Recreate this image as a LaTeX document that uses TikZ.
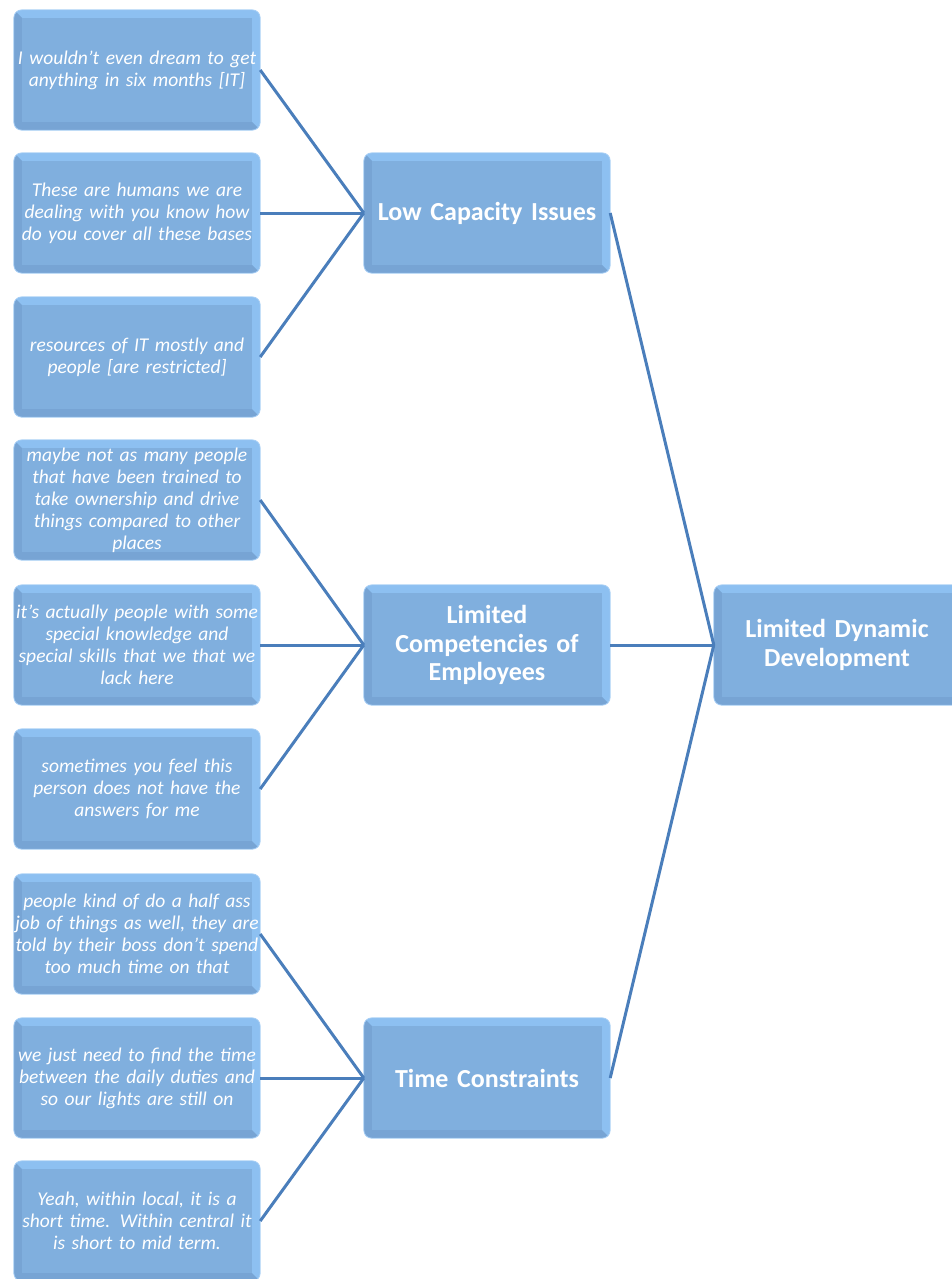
\documentclass[tikz,border=0pt]{standalone}
\usepackage{fontspec}
\setmainfont{Carlito}
\usetikzlibrary{calc,backgrounds}
\definecolor{bevlight}{HTML}{8DC0F1}
\definecolor{beveldark}{HTML}{77A4D4}
\definecolor{boxmain}{HTML}{80AFDE}
\definecolor{boxedge}{HTML}{A8CFF5}
\definecolor{linkc}{HTML}{4A7EBB}
\newcommand{\bevelcard}[1]{%
  \begin{scope}[on background layer]
    \begin{scope}
      \clip[rounded corners=8pt] (#1.south west) rectangle (#1.north east);
      \fill[bevlight] (#1.south west) rectangle (#1.north east);
      \fill[beveldark] (#1.north west) -- ($(#1.north west)+(8,8)$) -- ($(#1.south east)+(-8,-8)$)
        -- (#1.south east) -- (#1.south west) -- cycle;
      \fill[boxmain] ($(#1.north west)+(8,8)$) rectangle ($(#1.south east)+(-8,-8)$);
    \end{scope}
    \draw[boxedge, line width=0.8pt, rounded corners=8pt] (#1.south west) rectangle (#1.north east);
  \end{scope}}
\begin{document}
\begin{tikzpicture}[x=1pt,y=-1pt,
  card/.style={minimum width=246pt, minimum height=120pt,
    text width=246pt, align=center, text=white, inner sep=0pt},
  quote/.style={card, font=\fontsize{19.5}{22}\selectfont\itshape},
  theme/.style={card, font=\fontsize{26}{28.5}\selectfont\bfseries},
  link/.style={draw=linkc, line width=3pt}]
\useasboundingbox (0,0) rectangle (951,1279);

\node[quote] (L1) at (137,70) {I wouldn't even dream to get\\anything in six months [IT]};
\node[quote] (L2) at (137,213) {These are humans we are\\dealing with you know how\\do you cover all these bases};
\node[quote] (L3) at (137,357) {resources of IT mostly and\\people [are restricted]};
\node[quote] (L4) at (137,500) {maybe not as many people\\that have been trained to\\take ownership and drive\\things compared to other\\places};
\node[quote] (L5) at (137,645) {it's actually people with some\\special knowledge and\\special skills that we that we\\lack here};
\node[quote] (L6) at (137,789) {sometimes you feel this\\person does not have the\\answers for me};
\node[quote] (L7) at (137,934) {people kind of do a half ass\\job of things as well, they are\\told by their boss don’t spend\\too much time on that};
\node[quote] (L8) at (137,1078) {we just need to find the time\\between the daily duties and\\so our lights are still on};
\node[quote] (L9) at (137,1221) {Yeah, within local, it is a\\short time. Within central it\\is short to mid term.};

\node[theme] (M1) at (487,213) {Low Capacity Issues};
\node[theme] (M2) at (487,645) {Limited\\Competencies of\\Employees};
\node[theme] (M3) at (487,1078) {Time Constraints};
\node[theme] (R) at (837,645) {Limited Dynamic\\Development};

\foreach \n in {L1,L2,L3,L4,L5,L6,L7,L8,L9,M1,M2,M3,R} {\bevelcard{\n}}

\foreach \a/\b in {L1/M1,L2/M1,L3/M1,L4/M2,L5/M2,L6/M2,L7/M3,L8/M3,L9/M3,M1/R,M2/R,M3/R}
  \draw[link] (\a.east) -- (\b.west);
\end{tikzpicture}
\end{document}
